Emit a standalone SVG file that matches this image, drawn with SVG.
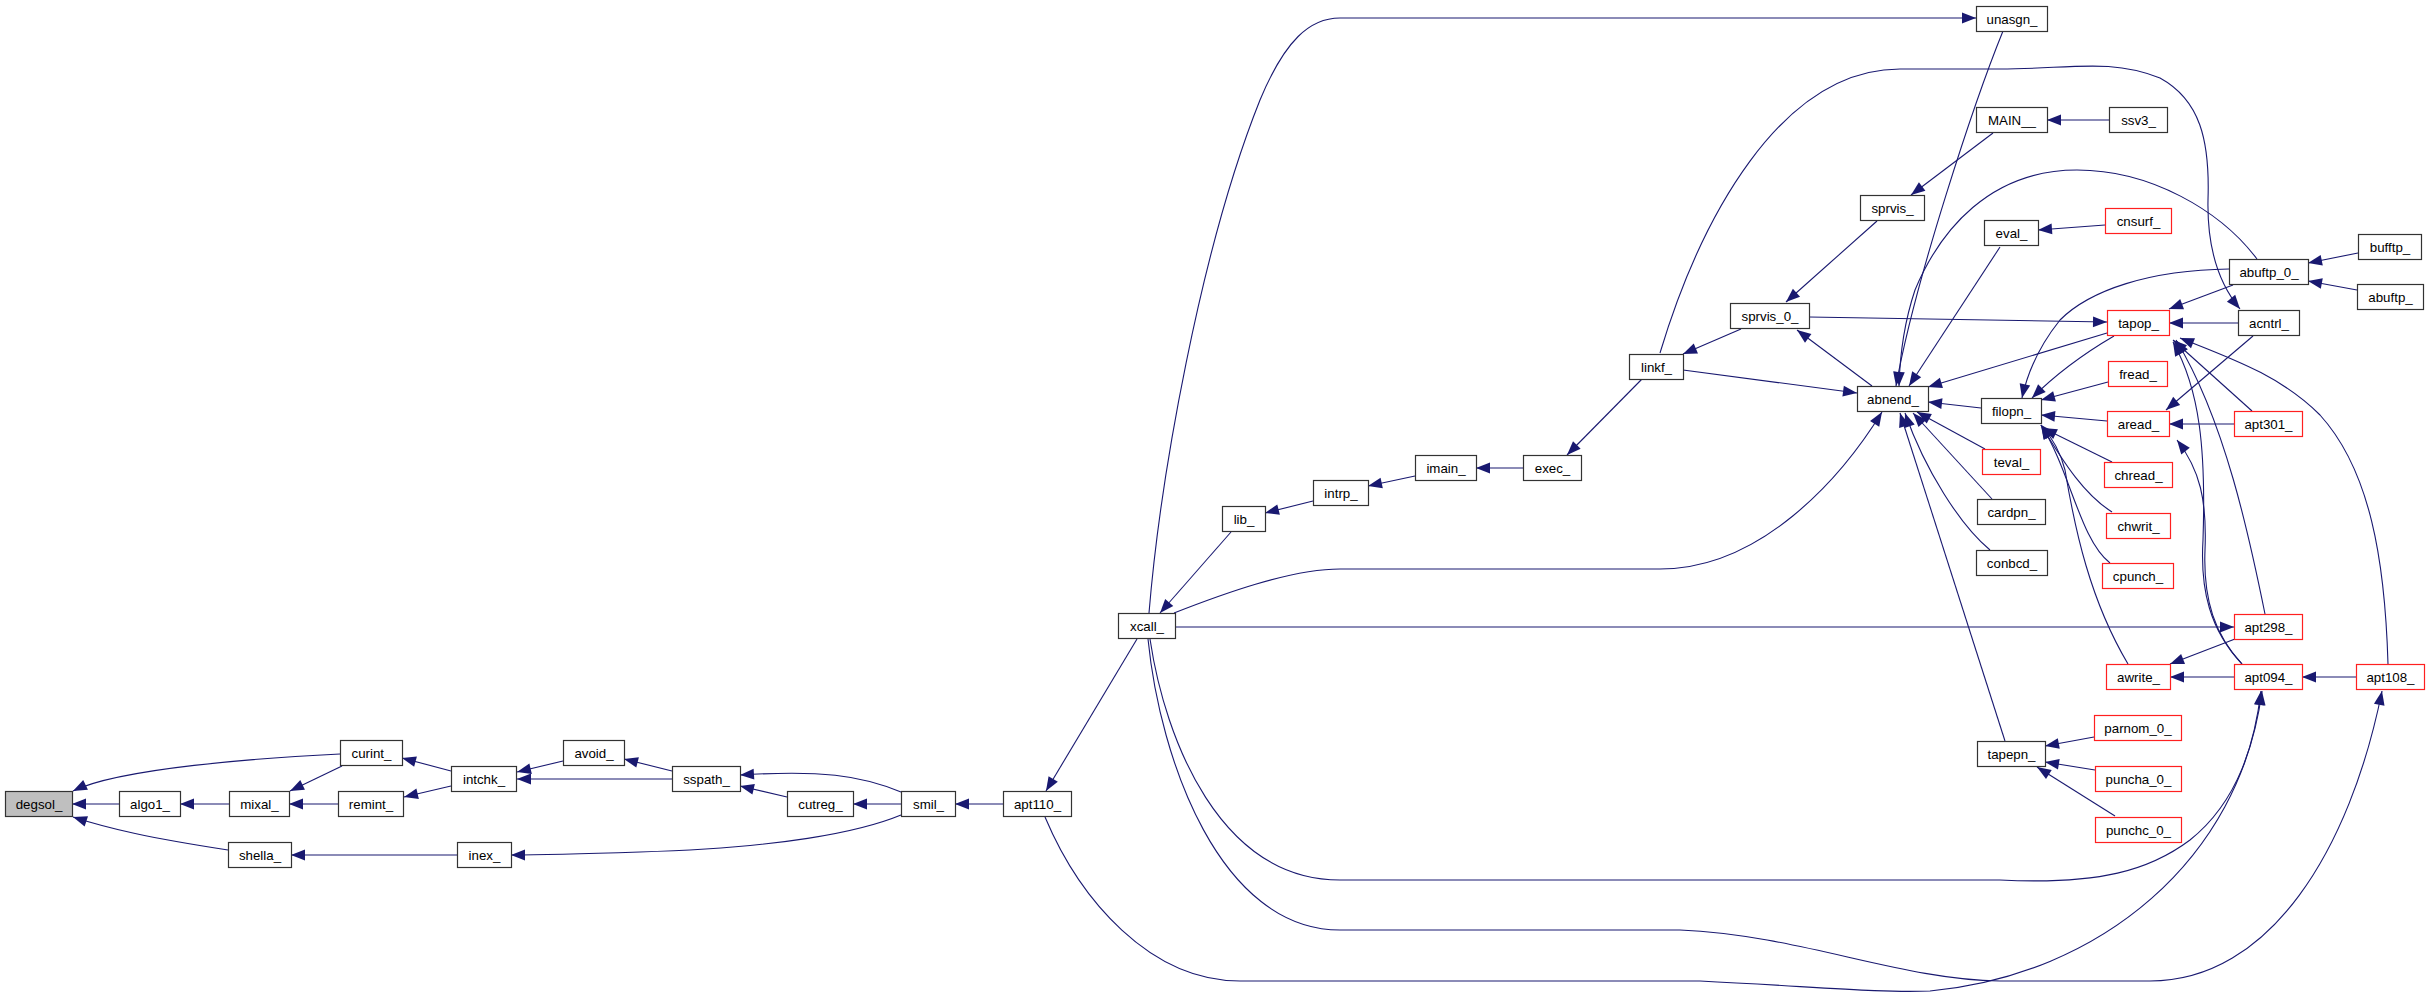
<svg xmlns="http://www.w3.org/2000/svg" width="2429" height="998" viewBox="0 0 2429 998">
<style>
.n rect{fill:#fff;stroke:#333;stroke-width:1.2}
.r rect{fill:#fff;stroke:#ff2020;stroke-width:1.2}
.g rect{fill:#bfbfbf;stroke:#333;stroke-width:1.2}
text{font-family:"Liberation Sans",Arial,sans-serif;font-size:13.3px;fill:#000;text-anchor:middle}
#edges path{fill:none;stroke:#191970;stroke-width:1.1;marker-end:url(#a)}
</style>
<defs>
<marker id="a" markerUnits="userSpaceOnUse" markerWidth="14" markerHeight="11" refX="13" refY="5" orient="auto" viewBox="0 0 13 10" overflow="visible">
<path d="M0,0 L13,5 L0,10 z" fill="#191970"/>
</marker>
</defs>
<rect x="0" y="0" width="2429" height="998" fill="#fff"/>
<g id="edges">
<path d="M340,754 C260,758 120,768 73,791"/>
<path d="M119,804 L72,804"/>
<path d="M228,850 C150,838 110,829 73,817"/>
<path d="M229,804 L180,804"/>
<path d="M342,766 L290,791"/>
<path d="M338,804 L289,804"/>
<path d="M451,771 L402,758"/>
<path d="M451,786 L404,797"/>
<path d="M563,761 L517,772"/>
<path d="M672,779 L517,779"/>
<path d="M672,771 L624,759"/>
<path d="M901,792 C860,775 820,770 740,775"/>
<path d="M787,797 L740,786"/>
<path d="M901,804 L853,804"/>
<path d="M457,855 L291,855"/>
<path d="M901,815 C860,832 780,848 640,852 C580,854 540,855 511,855"/>
<path d="M1003,804 L955,804"/>
<path d="M1137,639 L1046,791"/>
<path d="M1045,817 C1080,900 1150,981 1240,981 L1700,981 C1820,987 1880,993 1930,991 C2100,975 2240,860 2262,691"/>
<path d="M1150,639 C1165,740 1220,880 1340,880 L2000,880 C2100,885 2150,870 2190,840 C2240,800 2255,740 2261,691"/>
<path d="M1148,639 C1160,760 1220,930 1340,930 L1680,930 C1800,935 1900,980 2000,981 L2150,981 C2270,981 2350,850 2382,691"/>
<path d="M1175,627 L2234,627"/>
<path d="M1174,613 C1220,595 1290,569 1340,569 L1660,569 C1760,569 1840,480 1882,412"/>
<path d="M1149,613 C1160,480 1200,250 1260,100 C1285,40 1310,18 1340,18 L1976,18"/>
<path d="M1231,532 L1160,613"/>
<path d="M1313,501 L1265,513"/>
<path d="M1415,476 L1368,486"/>
<path d="M1523,468 L1476,468"/>
<path d="M1642,379 L1567,455"/>
<path d="M1741,329 L1683,354"/>
<path d="M1683,370 L1857,393"/>
<path d="M1660,353 C1700,220 1780,69 1900,69 L2000,69 C2070,69 2110,58 2160,78 C2200,100 2210,140 2208,200 C2207,250 2220,285 2240,309"/>
<path d="M1877,221 L1786,302"/>
<path d="M1993,133 L1911,195"/>
<path d="M2109,120 L2047,120"/>
<path d="M1872,386 L1797,330"/>
<path d="M1809,317 L2107,322"/>
<path d="M2003,31 C1975,100 1915,280 1896,386"/>
<path d="M2257,259 C2220,210 2150,170 2077,170 C1990,170 1940,230 1915,290 C1905,320 1900,350 1899,386"/>
<path d="M2000,247 L1909,386"/>
<path d="M2105,225 L2038,230"/>
<path d="M2107,333 L1928,387"/>
<path d="M1981,408 L1928,402"/>
<path d="M1985,449 L1917,412"/>
<path d="M1992,499 L1913,413"/>
<path d="M1990,550 C1960,525 1925,470 1905,413"/>
<path d="M2005,741 L1900,413"/>
<path d="M2114,336 C2090,350 2060,370 2032,398"/>
<path d="M2229,269 C2150,270 2090,290 2060,320 C2040,345 2028,370 2022,398"/>
<path d="M2108,382 L2041,400"/>
<path d="M2107,421 L2041,415"/>
<path d="M2112,462 L2043,428"/>
<path d="M2112,512 C2085,495 2065,465 2041,425"/>
<path d="M2110,563 C2080,540 2070,470 2041,425"/>
<path d="M2128,664 C2090,600 2075,530 2065,470 C2060,450 2050,435 2041,425"/>
<path d="M2233,285 L2169,309"/>
<path d="M2238,323 L2169,323"/>
<path d="M2252,411 L2173,340"/>
<path d="M2265,614 C2250,540 2225,420 2176,340"/>
<path d="M2242,664 C2210,630 2200,590 2203,540 C2206,450 2200,390 2173,342"/>
<path d="M2242,664 C2215,635 2203,600 2205,550 C2207,500 2200,470 2177,440"/>
<path d="M2388,664 C2385,560 2370,470 2320,415 C2280,375 2230,358 2180,338"/>
<path d="M2253,336 L2166,410"/>
<path d="M2234,424 L2169,424"/>
<path d="M2358,253 L2308,263"/>
<path d="M2357,290 L2308,281"/>
<path d="M2235,639 L2170,664"/>
<path d="M2234,677 L2170,677"/>
<path d="M2356,677 L2302,677"/>
<path d="M2094,737 L2045,746"/>
<path d="M2095,770 L2045,762"/>
<path d="M2115,816 L2037,767"/>
</g>
<g id="degsol" class="g"><rect x="5.5" y="791.5" width="67" height="25"/><text x="39" y="809">degsol_</text></g>
<g id="algo1" class="n"><rect x="119.5" y="791.5" width="61" height="25"/><text x="150" y="809">algo1_</text></g>
<g id="mixal" class="n"><rect x="229.5" y="791.5" width="60" height="25"/><text x="259.5" y="809">mixal_</text></g>
<g id="curint" class="n"><rect x="340.5" y="740.5" width="62" height="25"/><text x="371.5" y="758">curint_</text></g>
<g id="remint" class="n"><rect x="338.5" y="791.5" width="65" height="25"/><text x="371" y="809">remint_</text></g>
<g id="intchk" class="n"><rect x="451.5" y="766.5" width="65" height="25"/><text x="484" y="784">intchk_</text></g>
<g id="avoid" class="n"><rect x="563.5" y="740.5" width="61" height="25"/><text x="594" y="758">avoid_</text></g>
<g id="shella" class="n"><rect x="228.5" y="842.5" width="63" height="25"/><text x="260" y="860">shella_</text></g>
<g id="inex" class="n"><rect x="457.5" y="842.5" width="54" height="25"/><text x="484.5" y="860">inex_</text></g>
<g id="sspath" class="n"><rect x="672.5" y="766.5" width="68" height="25"/><text x="706.5" y="784">sspath_</text></g>
<g id="cutreg" class="n"><rect x="787.5" y="791.5" width="66" height="25"/><text x="820.5" y="809">cutreg_</text></g>
<g id="smil" class="n"><rect x="901.5" y="791.5" width="54" height="25"/><text x="928.5" y="809">smil_</text></g>
<g id="apt110" class="n"><rect x="1003.5" y="791.5" width="68" height="25"/><text x="1037.5" y="809">apt110_</text></g>
<g id="xcall" class="n"><rect x="1118.5" y="613.5" width="57" height="25"/><text x="1147" y="631">xcall_</text></g>
<g id="lib" class="n"><rect x="1222.5" y="506.5" width="43" height="25"/><text x="1244" y="524">lib_</text></g>
<g id="intrp" class="n"><rect x="1313.5" y="480.5" width="55" height="25"/><text x="1341" y="498">intrp_</text></g>
<g id="imain" class="n"><rect x="1415.5" y="455.5" width="61" height="25"/><text x="1446" y="473">imain_</text></g>
<g id="exec" class="n"><rect x="1523.5" y="455.5" width="58" height="25"/><text x="1552.5" y="473">exec_</text></g>
<g id="unasgn" class="n"><rect x="1976.5" y="6.5" width="71" height="25"/><text x="2012" y="24">unasgn_</text></g>
<g id="MAIN" class="n"><rect x="1976.5" y="107.5" width="71" height="25"/><text x="2012" y="125">MAIN__</text></g>
<g id="ssv3" class="n"><rect x="2109.5" y="107.5" width="58" height="25"/><text x="2138.5" y="125">ssv3_</text></g>
<g id="sprvis" class="n"><rect x="1860.5" y="195.5" width="64" height="25"/><text x="1892.5" y="213">sprvis_</text></g>
<g id="eval" class="n"><rect x="1984.5" y="220.5" width="54" height="25"/><text x="2011.5" y="238">eval_</text></g>
<g id="cnsurf" class="r"><rect x="2105.5" y="208.5" width="66" height="25"/><text x="2138.5" y="226">cnsurf_</text></g>
<g id="sprvis_0" class="n"><rect x="1730.5" y="303.5" width="79" height="25"/><text x="1770" y="321">sprvis_0_</text></g>
<g id="linkf" class="n"><rect x="1629.5" y="354.5" width="54" height="25"/><text x="1656.5" y="372">linkf_</text></g>
<g id="abnend" class="n"><rect x="1857.5" y="386.5" width="71" height="25"/><text x="1893" y="404">abnend_</text></g>
<g id="bufftp" class="n"><rect x="2358.5" y="234.5" width="63" height="25"/><text x="2390" y="252">bufftp_</text></g>
<g id="abuftp_0" class="n"><rect x="2229.5" y="259.5" width="79" height="25"/><text x="2269" y="277">abuftp_0_</text></g>
<g id="abuftp" class="n"><rect x="2357.5" y="284.5" width="66" height="25"/><text x="2390.5" y="302">abuftp_</text></g>
<g id="tapop" class="r"><rect x="2107.5" y="310.5" width="62" height="25"/><text x="2138.5" y="328">tapop_</text></g>
<g id="acntrl" class="n"><rect x="2238.5" y="310.5" width="61" height="25"/><text x="2269" y="328">acntrl_</text></g>
<g id="fread" class="r"><rect x="2108.5" y="361.5" width="59" height="25"/><text x="2138" y="379">fread_</text></g>
<g id="filopn" class="n"><rect x="1981.5" y="398.5" width="60" height="25"/><text x="2011.5" y="416">filopn_</text></g>
<g id="aread" class="r"><rect x="2107.5" y="411.5" width="62" height="25"/><text x="2138.5" y="429">aread_</text></g>
<g id="apt301" class="r"><rect x="2234.5" y="411.5" width="68" height="25"/><text x="2268.5" y="429">apt301_</text></g>
<g id="teval" class="r"><rect x="1982.5" y="449.5" width="58" height="25"/><text x="2011.5" y="467">teval_</text></g>
<g id="chread" class="r"><rect x="2104.5" y="462.5" width="68" height="25"/><text x="2138.5" y="480">chread_</text></g>
<g id="cardpn" class="n"><rect x="1977.5" y="499.5" width="68" height="25"/><text x="2011.5" y="517">cardpn_</text></g>
<g id="chwrit" class="r"><rect x="2106.5" y="513.5" width="64" height="25"/><text x="2138.5" y="531">chwrit_</text></g>
<g id="conbcd" class="n"><rect x="1976.5" y="550.5" width="71" height="25"/><text x="2012" y="568">conbcd_</text></g>
<g id="cpunch" class="r"><rect x="2102.5" y="563.5" width="71" height="25"/><text x="2138" y="581">cpunch_</text></g>
<g id="apt298" class="r"><rect x="2234.5" y="614.5" width="68" height="25"/><text x="2268.5" y="632">apt298_</text></g>
<g id="awrite" class="r"><rect x="2106.5" y="664.5" width="64" height="25"/><text x="2138.5" y="682">awrite_</text></g>
<g id="apt094" class="r"><rect x="2234.5" y="664.5" width="68" height="25"/><text x="2268.5" y="682">apt094_</text></g>
<g id="apt108" class="r"><rect x="2356.5" y="664.5" width="68" height="25"/><text x="2390.5" y="682">apt108_</text></g>
<g id="parnom_0" class="r"><rect x="2094.5" y="715.5" width="87" height="25"/><text x="2138" y="733">parnom_0_</text></g>
<g id="tapepn" class="n"><rect x="1977.5" y="741.5" width="68" height="25"/><text x="2011.5" y="759">tapepn_</text></g>
<g id="puncha_0" class="r"><rect x="2095.5" y="766.5" width="86" height="25"/><text x="2138.5" y="784">puncha_0_</text></g>
<g id="punchc_0" class="r"><rect x="2095.5" y="817.5" width="86" height="25"/><text x="2138.5" y="835">punchc_0_</text></g>
</svg>
